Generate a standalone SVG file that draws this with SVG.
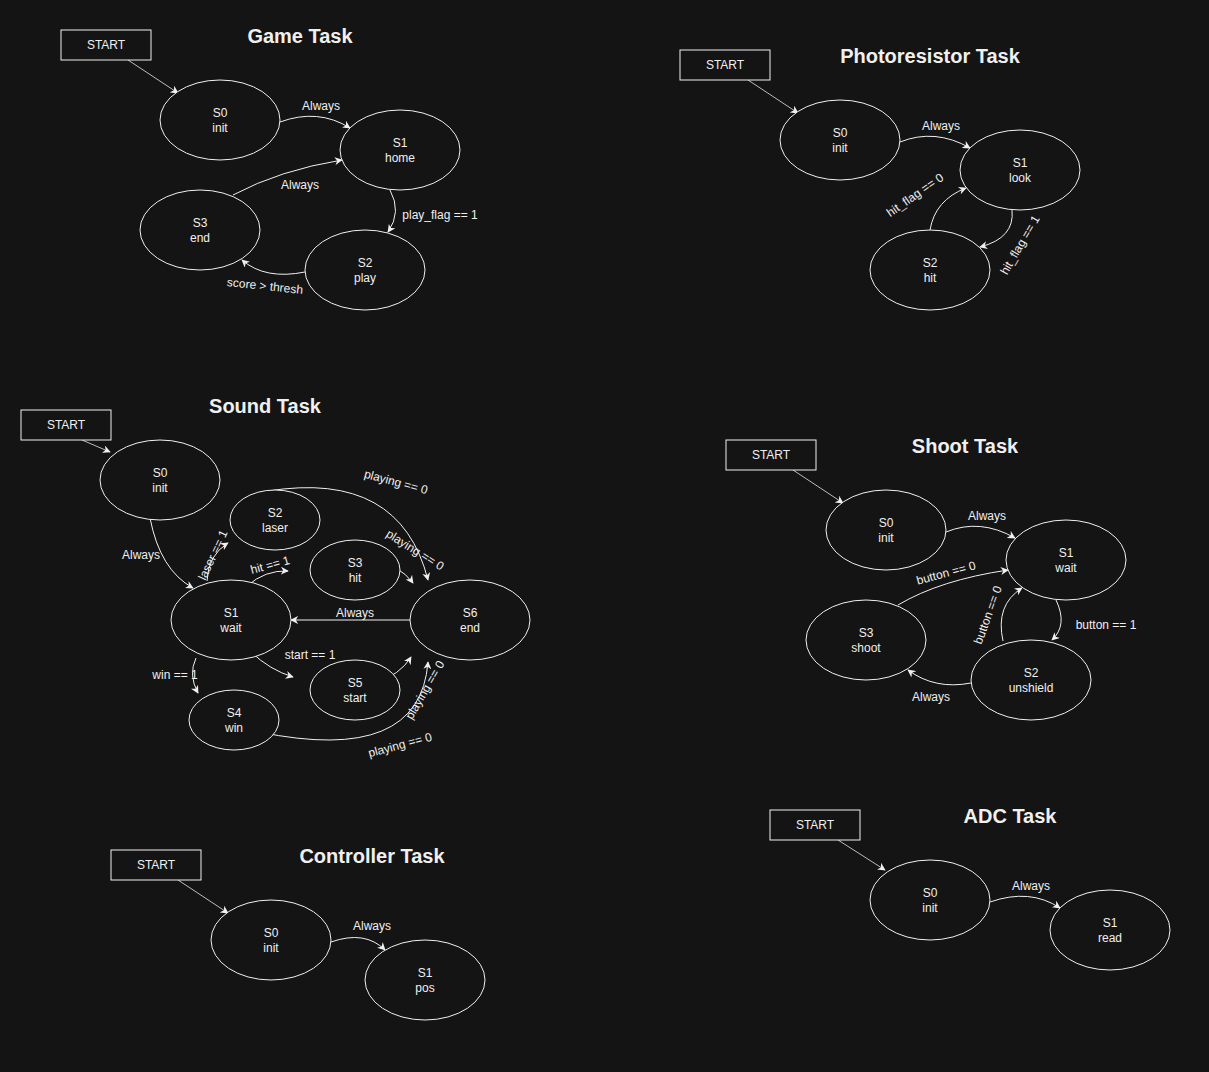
<svg xmlns="http://www.w3.org/2000/svg" width="1209" height="1072" viewBox="0 0 1209 1072">
<style>
text{font-family:"Liberation Sans",Arial,sans-serif;fill:#f0f0f0;text-anchor:middle}
.n{font-size:12px}
.l{font-size:12px}
.t{font-size:20px;font-weight:bold}
ellipse,rect.s{fill:#141414;stroke:#f0f0f0;stroke-width:1}
.e path,.e line{fill:none;stroke:#f0f0f0;stroke-width:1;marker-end:url(#a)}
.e .g{stroke:#bbbbbb}
</style>
<defs><marker id="a" viewBox="0 0 10 10" refX="9" refY="5" markerWidth="8" markerHeight="8" orient="auto" markerUnits="userSpaceOnUse"><path d="M0,0L10,5L0,10L3,5Z" fill="#f0f0f0"/></marker></defs>
<rect width="1209" height="1072" fill="#141414"/>
<g id="titles">
<text class="t" x="300" y="43">Game Task</text>
<text class="t" x="930" y="63">Photoresistor Task</text>
<text class="t" x="265" y="413">Sound Task</text>
<text class="t" x="965" y="453">Shoot Task</text>
<text class="t" x="372" y="863">Controller Task</text>
<text class="t" x="1010" y="823">ADC Task</text>
</g>
<g class="e" id="connectors">
<line class="g" x1="128" y1="60" x2="178" y2="93"/>
<path d="M280,122Q318,108 350,128"/>
<path d="M390,190Q402,212 388,232"/>
<path d="M305,272Q265,280 242,260"/>
<path d="M233,195Q280,170 342,160"/>
<line class="g" x1="748" y1="80" x2="798" y2="113"/>
<path d="M900,142Q935,128 970,148"/>
<path d="M930,230Q935,200 966,188"/>
<path d="M1012,210Q1015,238 980,247"/>
<line class="g" x1="82" y1="440" x2="110" y2="452"/>
<path d="M150,518Q160,570 193,588"/>
<path d="M207,581Q208,555 228,543"/>
<path d="M247,586Q265,570 288,571"/>
<path d="M268,491Q400,470 428,580"/>
<path d="M371,559Q400,565 413,583"/>
<line x1="410" y1="620" x2="291" y2="620"/>
<path d="M251,652Q270,670 293,677"/>
<path d="M196,658Q188,675 198,693"/>
<path d="M375,683Q400,675 411,657"/>
<path d="M259,732Q420,765 428,662"/>
<line class="g" x1="793" y1="470" x2="843" y2="503"/>
<path d="M946,532Q980,518 1015,538"/>
<path d="M898,605Q940,580 1008,570"/>
<path d="M1056,600Q1068,625 1052,640"/>
<path d="M1003,641Q995,605 1022,588"/>
<path d="M971,683Q935,690 908,670"/>
<line class="g" x1="178" y1="880" x2="228" y2="913"/>
<path d="M331,942Q365,930 385,950"/>
<line class="g" x1="838" y1="840" x2="885" y2="870"/>
<path d="M990,902Q1030,888 1060,908"/>
</g>
<g id="labels">
<text class="l" x="321" y="110">Always</text>
<text class="l" x="300" y="189">Always</text>
<text class="l" x="440" y="219">play_flag == 1</text>
<text class="l" x="265" y="290" transform="rotate(6 265 286)">score &gt; thresh</text>
<text class="l" x="941" y="130">Always</text>
<text class="l" x="915" y="199" transform="rotate(-35 915 195)">hit_flag == 0</text>
<text class="l" x="1020" y="249" transform="rotate(-60 1020 245)">hit_flag == 1</text>
<text class="l" x="141" y="559">Always</text>
<text class="l" x="213" y="559" transform="rotate(-65 213 555)">laser == 1</text>
<text class="l" x="270" y="569" transform="rotate(-15 270 565)">hit == 1</text>
<text class="l" x="396" y="486" transform="rotate(15 396 482)">playing == 0</text>
<text class="l" x="415" y="554" transform="rotate(32 415 550)">playing == 0</text>
<text class="l" x="355" y="617">Always</text>
<text class="l" x="310" y="659">start == 1</text>
<text class="l" x="175" y="679">win == 1</text>
<text class="l" x="425" y="694" transform="rotate(-60 425 690)">playing == 0</text>
<text class="l" x="400" y="749" transform="rotate(-15 400 745)">playing == 0</text>
<text class="l" x="987" y="520">Always</text>
<text class="l" x="946" y="577" transform="rotate(-15 946 573)">button == 0</text>
<text class="l" x="1106" y="629">button == 1</text>
<text class="l" x="988" y="619" transform="rotate(-70 988 615)">button == 0</text>
<text class="l" x="931" y="701">Always</text>
<text class="l" x="372" y="930">Always</text>
<text class="l" x="1031" y="890">Always</text>
</g>
<g id="game-start"><rect class="s" x="61" y="30" width="90" height="30"/><text class="n" x="106" y="49">START</text></g>
<g id="game-s0"><ellipse cx="220" cy="120" rx="60" ry="40"/><text class="n" x="220" y="117">S0</text><text class="n" x="220" y="132">init</text></g>
<g id="game-s1"><ellipse cx="400" cy="150" rx="60" ry="40"/><text class="n" x="400" y="147">S1</text><text class="n" x="400" y="162">home</text></g>
<g id="game-s3"><ellipse cx="200" cy="230" rx="60" ry="40"/><text class="n" x="200" y="227">S3</text><text class="n" x="200" y="242">end</text></g>
<g id="game-s2"><ellipse cx="365" cy="270" rx="60" ry="40"/><text class="n" x="365" y="267">S2</text><text class="n" x="365" y="282">play</text></g>
<g id="photo-start"><rect class="s" x="680" y="50" width="90" height="30"/><text class="n" x="725" y="69">START</text></g>
<g id="photo-s0"><ellipse cx="840" cy="140" rx="60" ry="40"/><text class="n" x="840" y="137">S0</text><text class="n" x="840" y="152">init</text></g>
<g id="photo-s1"><ellipse cx="1020" cy="170" rx="60" ry="40"/><text class="n" x="1020" y="167">S1</text><text class="n" x="1020" y="182">look</text></g>
<g id="photo-s2"><ellipse cx="930" cy="270" rx="60" ry="40"/><text class="n" x="930" y="267">S2</text><text class="n" x="930" y="282">hit</text></g>
<g id="sound-start"><rect class="s" x="21" y="410" width="90" height="30"/><text class="n" x="66" y="429">START</text></g>
<g id="sound-s0"><ellipse cx="160" cy="480" rx="60" ry="40"/><text class="n" x="160" y="477">S0</text><text class="n" x="160" y="492">init</text></g>
<g id="sound-s1"><ellipse cx="231" cy="620" rx="60" ry="40"/><text class="n" x="231" y="617">S1</text><text class="n" x="231" y="632">wait</text></g>
<g id="sound-s2"><ellipse cx="275" cy="520" rx="45" ry="30"/><text class="n" x="275" y="517">S2</text><text class="n" x="275" y="532">laser</text></g>
<g id="sound-s3"><ellipse cx="355" cy="570" rx="45" ry="30"/><text class="n" x="355" y="567">S3</text><text class="n" x="355" y="582">hit</text></g>
<g id="sound-s6"><ellipse cx="470" cy="620" rx="60" ry="40"/><text class="n" x="470" y="617">S6</text><text class="n" x="470" y="632">end</text></g>
<g id="sound-s5"><ellipse cx="355" cy="690" rx="45" ry="30"/><text class="n" x="355" y="687">S5</text><text class="n" x="355" y="702">start</text></g>
<g id="sound-s4"><ellipse cx="234" cy="720" rx="45" ry="30"/><text class="n" x="234" y="717">S4</text><text class="n" x="234" y="732">win</text></g>
<g id="shoot-start"><rect class="s" x="726" y="440" width="90" height="30"/><text class="n" x="771" y="459">START</text></g>
<g id="shoot-s0"><ellipse cx="886" cy="530" rx="60" ry="40"/><text class="n" x="886" y="527">S0</text><text class="n" x="886" y="542">init</text></g>
<g id="shoot-s1"><ellipse cx="1066" cy="560" rx="60" ry="40"/><text class="n" x="1066" y="557">S1</text><text class="n" x="1066" y="572">wait</text></g>
<g id="shoot-s3"><ellipse cx="866" cy="640" rx="60" ry="40"/><text class="n" x="866" y="637">S3</text><text class="n" x="866" y="652">shoot</text></g>
<g id="shoot-s2"><ellipse cx="1031" cy="680" rx="60" ry="40"/><text class="n" x="1031" y="677">S2</text><text class="n" x="1031" y="692">unshield</text></g>
<g id="ctrl-start"><rect class="s" x="111" y="850" width="90" height="30"/><text class="n" x="156" y="869">START</text></g>
<g id="ctrl-s0"><ellipse cx="271" cy="940" rx="60" ry="40"/><text class="n" x="271" y="937">S0</text><text class="n" x="271" y="952">init</text></g>
<g id="ctrl-s1"><ellipse cx="425" cy="980" rx="60" ry="40"/><text class="n" x="425" y="977">S1</text><text class="n" x="425" y="992">pos</text></g>
<g id="adc-start"><rect class="s" x="770" y="810" width="90" height="30"/><text class="n" x="815" y="829">START</text></g>
<g id="adc-s0"><ellipse cx="930" cy="900" rx="60" ry="40"/><text class="n" x="930" y="897">S0</text><text class="n" x="930" y="912">init</text></g>
<g id="adc-s1"><ellipse cx="1110" cy="930" rx="60" ry="40"/><text class="n" x="1110" y="927">S1</text><text class="n" x="1110" y="942">read</text></g>
</svg>
